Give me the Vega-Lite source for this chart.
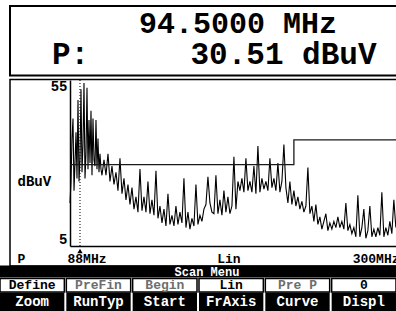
{
  "$schema": "https://vega.github.io/schema/vega-lite/v6.json",
  "width": 326,
  "height": 166,
  "autosize": "none",
  "padding": {"left": 70, "top": 80, "right": 0, "bottom": 65},
  "background": "white",
  "config": {"view": {"stroke": null}, "font": "Liberation Mono"},
  "datasets": {
    "trace": [
      {"f":88.0,"v":17},{"f":88.65,"v":24},{"f":89.3,"v":38},{"f":89.95,"v":44.5},{"f":90.6,"v":21},{"f":91.25,"v":30},{"f":91.9,"v":40},{"f":92.55,"v":25},{"f":93.2,"v":50.5},{"f":93.85,"v":24},
      {"f":94.5,"v":31},{"f":95.15,"v":54},{"f":95.8,"v":27},{"f":96.45,"v":36},{"f":97.1,"v":56},{"f":97.75,"v":25},{"f":98.4,"v":33},{"f":99.05,"v":54.5},{"f":99.7,"v":28},{"f":100.35,"v":44},
      {"f":101.0,"v":30},{"f":101.65,"v":47},{"f":102.3,"v":26},{"f":102.95,"v":44.5},{"f":103.6,"v":31},{"f":104.25,"v":29},{"f":104.9,"v":44},{"f":105.55,"v":28},{"f":106.2,"v":38},{"f":106.85,"v":27},
      {"f":107.5,"v":33},{"f":108.15,"v":28},{"f":108.8,"v":26},{"f":110.1,"v":31},{"f":111.4,"v":26},{"f":112.7,"v":33},
      {"f":114.0,"v":24},{"f":115.3,"v":29},{"f":116.6,"v":23},{"f":117.9,"v":27},{"f":119.2,"v":21},{"f":120.5,"v":31.5},{"f":121.8,"v":20},{"f":123.1,"v":25},{"f":124.4,"v":18},{"f":125.7,"v":23},
      {"f":127.0,"v":16.5},{"f":128.3,"v":22},{"f":129.6,"v":15},{"f":130.9,"v":19},{"f":132.2,"v":14},{"f":133.5,"v":28},{"f":134.8,"v":14.5},{"f":136.1,"v":19},{"f":137.4,"v":14},{"f":138.7,"v":24},
      {"f":140.0,"v":13.5},{"f":141.3,"v":18},{"f":142.6,"v":13},{"f":143.9,"v":27.5},{"f":145.2,"v":12},{"f":146.5,"v":16},{"f":147.8,"v":10.5},{"f":149.1,"v":15},{"f":150.4,"v":9.5},{"f":151.7,"v":20},
      {"f":153.0,"v":10},{"f":154.3,"v":13},{"f":155.6,"v":9.5},{"f":156.9,"v":16},{"f":158.2,"v":10},{"f":159.5,"v":14},{"f":160.8,"v":10.5},{"f":162.1,"v":25},{"f":163.4,"v":9},{"f":164.7,"v":14},
      {"f":166.0,"v":8.5},{"f":167.3,"v":12},{"f":168.6,"v":9.5},{"f":169.9,"v":23},{"f":171.2,"v":10},{"f":172.5,"v":13},{"f":173.8,"v":11},{"f":175.1,"v":15},{"f":176.4,"v":16.5},{"f":177.7,"v":25.5},
      {"f":179.0,"v":17},{"f":180.3,"v":14},{"f":181.6,"v":13.5},{"f":182.9,"v":26},{"f":184.2,"v":13.5},{"f":185.5,"v":18},{"f":186.8,"v":13},{"f":188.1,"v":21},{"f":189.4,"v":14},{"f":190.7,"v":19},
      {"f":192.0,"v":13.5},{"f":193.3,"v":16},{"f":194.6,"v":32},{"f":195.9,"v":15},{"f":197.2,"v":24},{"f":198.5,"v":21},{"f":199.8,"v":25},{"f":201.1,"v":20.5},{"f":202.4,"v":31.5},{"f":203.7,"v":21},
      {"f":205.0,"v":24},{"f":206.3,"v":20.5},{"f":207.6,"v":29},{"f":208.9,"v":20},{"f":210.2,"v":35.5},{"f":211.5,"v":20.5},{"f":212.8,"v":25},{"f":214.1,"v":21.5},{"f":215.4,"v":24},{"f":216.7,"v":21},
      {"f":218.0,"v":31.5},{"f":219.3,"v":22},{"f":220.6,"v":25},{"f":221.9,"v":21},{"f":223.2,"v":30},{"f":224.5,"v":20.5},{"f":225.8,"v":24},{"f":227.1,"v":36},{"f":228.4,"v":22},{"f":229.7,"v":17},
      {"f":231.0,"v":24},{"f":232.3,"v":16.5},{"f":233.6,"v":21},{"f":234.9,"v":16},{"f":236.2,"v":19},{"f":237.5,"v":15},{"f":238.8,"v":17.5},{"f":240.1,"v":14},{"f":241.4,"v":16},{"f":242.7,"v":28.5},
      {"f":244.0,"v":13.5},{"f":245.3,"v":16},{"f":246.6,"v":11},{"f":247.9,"v":16.5},{"f":249.2,"v":10},{"f":250.5,"v":12.5},{"f":251.8,"v":8.5},{"f":253.1,"v":11},{"f":254.4,"v":13.5},{"f":255.7,"v":8},
      {"f":257.0,"v":10.5},{"f":258.3,"v":8.5},{"f":259.6,"v":11},{"f":260.9,"v":9},{"f":262.2,"v":12.5},{"f":263.5,"v":9},{"f":264.8,"v":11},{"f":266.1,"v":8.5},{"f":267.4,"v":17},{"f":268.7,"v":8},
      {"f":270.0,"v":10},{"f":271.3,"v":7},{"f":272.6,"v":9},{"f":273.9,"v":6},{"f":275.2,"v":19.5},{"f":276.5,"v":6},{"f":277.8,"v":9},{"f":279.1,"v":15},{"f":280.4,"v":5.5},{"f":281.7,"v":8},
      {"f":283.0,"v":16},{"f":284.3,"v":6},{"f":285.6,"v":8.5},{"f":286.9,"v":6},{"f":288.2,"v":9},{"f":289.5,"v":6.5},{"f":290.8,"v":20.5},{"f":292.1,"v":6},{"f":293.4,"v":9},{"f":294.7,"v":6.5},
      {"f":296.0,"v":11},{"f":297.3,"v":7},{"f":298.6,"v":18},{"f":299.9,"v":9}
    ],
    "limit": [{"f": 88, "v": 29.5}, {"f": 233.6, "v": 37.5}, {"f": 300, "v": 37.5}],
    "cursor": [{"f": 94.5, "level": 30.51}],
    "freqReadout": [{"reading": "94.5000 MHz"}],
    "levelReadout": [{"item": "P:"}, {"item": "30.51 dBuV"}],
    "bar": [{"menu": "Scan Menu"}],
    "softkeys": [
      {"col": 1, "key": "Define", "row": "top", "state": "on"},
      {"col": 2, "key": "PreFin", "row": "top", "state": "off"},
      {"col": 3, "key": "Begin", "row": "top", "state": "off"},
      {"col": 4, "key": "Lin", "row": "top", "state": "on"},
      {"col": 5, "key": "Pre P", "row": "top", "state": "off"},
      {"col": 6, "key": "0", "row": "top", "state": "on"}
    ],
    "menukeys": [
      {"col": 1, "key": "Zoom", "row": "bottom"},
      {"col": 2, "key": "RunTyp", "row": "bottom"},
      {"col": 3, "key": "Start", "row": "bottom"},
      {"col": 4, "key": "FrAxis", "row": "bottom"},
      {"col": 5, "key": "Curve", "row": "bottom"},
      {"col": 6, "key": "Displ", "row": "bottom"}
    ],
    "hframe": [{"frame": "header"}],
    "pframe": [{"frame": "panel"}]
  },
  "layer": [
    {
      "encoding": {
        "x": {
          "field": "f", "type": "quantitative",
          "scale": {"domain": [88, 300], "nice": false, "zero": false},
          "axis": {
            "orient": "bottom", "values": [88, 191, 300],
            "labelExpr": "datum.value == 88 ? '88MHz' : datum.value == 300 ? '300MHz' : 'Lin'",
            "ticks": false, "grid": false, "domainColor": "black", "domainWidth": 1.5,
            "labelFlush": true, "labelFlushOffset": 3, "labelPadding": 6, "labelOverlap": false,
            "labelFont": "Liberation Mono", "labelFontSize": 13, "labelFontWeight": "bold", "labelColor": "black", "labelBaseline": "top",
            "title": "P", "titleFont": "Liberation Mono", "titleFontSize": 13, "titleFontWeight": "bold", "titleColor": "black",
            "titleAlign": "left", "titleAnchor": "start", "titleX": -53, "titleY": 6, "titleBaseline": "top"
          }
        }
      },
      "layer": [
        {
          "data": {"name": "trace"},
          "mark": {"type": "line", "interpolate": "linear", "color": "black", "strokeWidth": 1.1},
          "encoding": {
            "y": {
              "field": "v", "type": "quantitative",
              "scale": {"domain": [3, 57], "nice": false, "zero": false},
              "axis": {
                "orient": "left", "values": [5, 55], "ticks": false, "grid": false,
                "domainColor": "black", "domainWidth": 1.5, "labelPadding": 3,
                "labelFont": "Liberation Mono", "labelFontSize": 14, "labelFontWeight": "bold", "labelColor": "black",
                "title": "dBuV", "titleFont": "Liberation Mono", "titleFontSize": 14, "titleFontWeight": "bold", "titleColor": "black",
                "titleAngle": 0, "titleAlign": "left", "titleBaseline": "middle", "titleX": -53, "titleY": 101
              }
            }
          }
        },
        {
          "data": {"name": "limit"},
          "mark": {"type": "line", "interpolate": "step-after", "color": "#1a1a1a", "strokeWidth": 1.3},
          "encoding": {"y": {"field": "v", "type": "quantitative"}}
        },
        {
          "data": {"name": "cursor"},
          "mark": {"type": "rule", "color": "black", "strokeDash": [1, 2], "strokeWidth": 1}
        },
        {
          "data": {"name": "cursor"},
          "mark": {"type": "point", "shape": "triangle-up", "filled": true, "color": "black", "size": 28, "opacity": 1},
          "encoding": {"y": {"datum": 1.4}}
        }
      ]
    },
    {
      "data": {"name": "hframe"},
      "mark": {"type": "rect", "filled": false, "color": "black", "strokeWidth": 2},
      "encoding": {
        "x": {"field": "frame", "type": "nominal", "scale": {"type": "band", "range": [-60, 330], "paddingInner": 0, "paddingOuter": 0}, "axis": null},
        "y": {"field": "frame", "type": "nominal", "scale": {"type": "band", "range": [-74, -4.5], "paddingInner": 0, "paddingOuter": 0}, "axis": null}
      }
    },
    {
      "data": {"name": "pframe"},
      "mark": {"type": "rect", "filled": false, "color": "black", "strokeWidth": 1.5},
      "encoding": {
        "x": {"field": "frame", "type": "nominal", "scale": {"type": "band", "range": [-60, 330], "paddingInner": 0, "paddingOuter": 0}, "axis": null},
        "y": {"field": "frame", "type": "nominal", "scale": {"type": "band", "range": [-0.5, 186], "paddingInner": 0, "paddingOuter": 0}, "axis": null}
      }
    },
    {
      "data": {"name": "freqReadout"},
      "mark": {"type": "text", "color": "black", "font": "Liberation Mono", "fontSize": 30, "fontWeight": "bold", "baseline": "middle", "align": "center"},
      "encoding": {
        "x": {"field": "reading", "type": "nominal", "scale": {"type": "band", "range": [62, 274], "paddingInner": 0, "paddingOuter": 0}, "axis": null},
        "y": {"field": "reading", "type": "nominal", "scale": {"type": "band", "range": [-67.5, -45.5], "paddingInner": 0, "paddingOuter": 0}, "axis": null},
        "text": {"field": "reading"}
      }
    },
    {
      "data": {"name": "levelReadout"},
      "mark": {"type": "text", "color": "black", "font": "Liberation Mono", "fontSize": 31, "fontWeight": "bold", "baseline": "middle", "align": "center"},
      "encoding": {
        "x": {"field": "item", "type": "nominal", "sort": null, "scale": {"type": "band", "range": [-106, 320], "paddingInner": 0, "paddingOuter": 0}, "axis": null},
        "y": {"field": "item", "type": "nominal", "scale": {"type": "point", "range": [-25, -25], "padding": 0}, "axis": null},
        "text": {"field": "item"}
      }
    },
    {
      "data": {"name": "bar"},
      "encoding": {
        "x": {"field": "menu", "type": "nominal", "scale": {"type": "band", "range": [-70, 326], "paddingInner": 0, "paddingOuter": 0}, "axis": null},
        "y": {"field": "menu", "type": "nominal", "scale": {"type": "band", "range": [185.5, 197.5], "paddingInner": 0, "paddingOuter": 0}, "axis": null}
      },
      "layer": [
        {"mark": {"type": "rect", "color": "black"}},
        {"mark": {"type": "text", "color": "white", "font": "Liberation Mono", "fontSize": 12, "fontWeight": "bold", "dx": 9, "baseline": "middle"}, "encoding": {"text": {"field": "menu"}}}
      ]
    },
    {
      "data": {"name": "softkeys"},
      "encoding": {
        "x": {"field": "col", "type": "ordinal", "scale": {"type": "band", "range": [-70, 326], "paddingInner": 0.03, "paddingOuter": 0}, "axis": null},
        "y": {"field": "row", "type": "nominal", "scale": {"type": "band", "range": [198.5, 212], "paddingInner": 0, "paddingOuter": 0}, "axis": null}
      },
      "layer": [
        {"mark": {"type": "rect", "fill": "white", "stroke": "black", "strokeWidth": 1.5}},
        {
          "mark": {"type": "text", "font": "Liberation Mono", "fontSize": 13, "fontWeight": "bold", "baseline": "middle"},
          "encoding": {
            "text": {"field": "key"},
            "color": {"field": "state", "type": "nominal", "scale": {"domain": ["on", "off"], "range": ["black", "#6e6e6e"]}, "legend": null}
          }
        }
      ]
    },
    {
      "data": {"name": "menukeys"},
      "encoding": {
        "x": {"field": "col", "type": "ordinal", "scale": {"type": "band", "range": [-70, 326], "paddingInner": 0.03, "paddingOuter": 0}, "axis": null},
        "y": {"field": "row", "type": "nominal", "scale": {"type": "band", "range": [212.5, 231], "paddingInner": 0, "paddingOuter": 0}, "axis": null}
      },
      "layer": [
        {"mark": {"type": "rect", "color": "black"}},
        {"mark": {"type": "text", "color": "white", "font": "Liberation Mono", "fontSize": 14, "fontWeight": "bold", "baseline": "middle"}, "encoding": {"text": {"field": "key"}}}
      ]
    }
  ],
  "resolve": {
    "scale": {"x": "independent", "y": "independent", "color": "independent"},
    "axis": {"x": "independent", "y": "independent"}
  }
}
